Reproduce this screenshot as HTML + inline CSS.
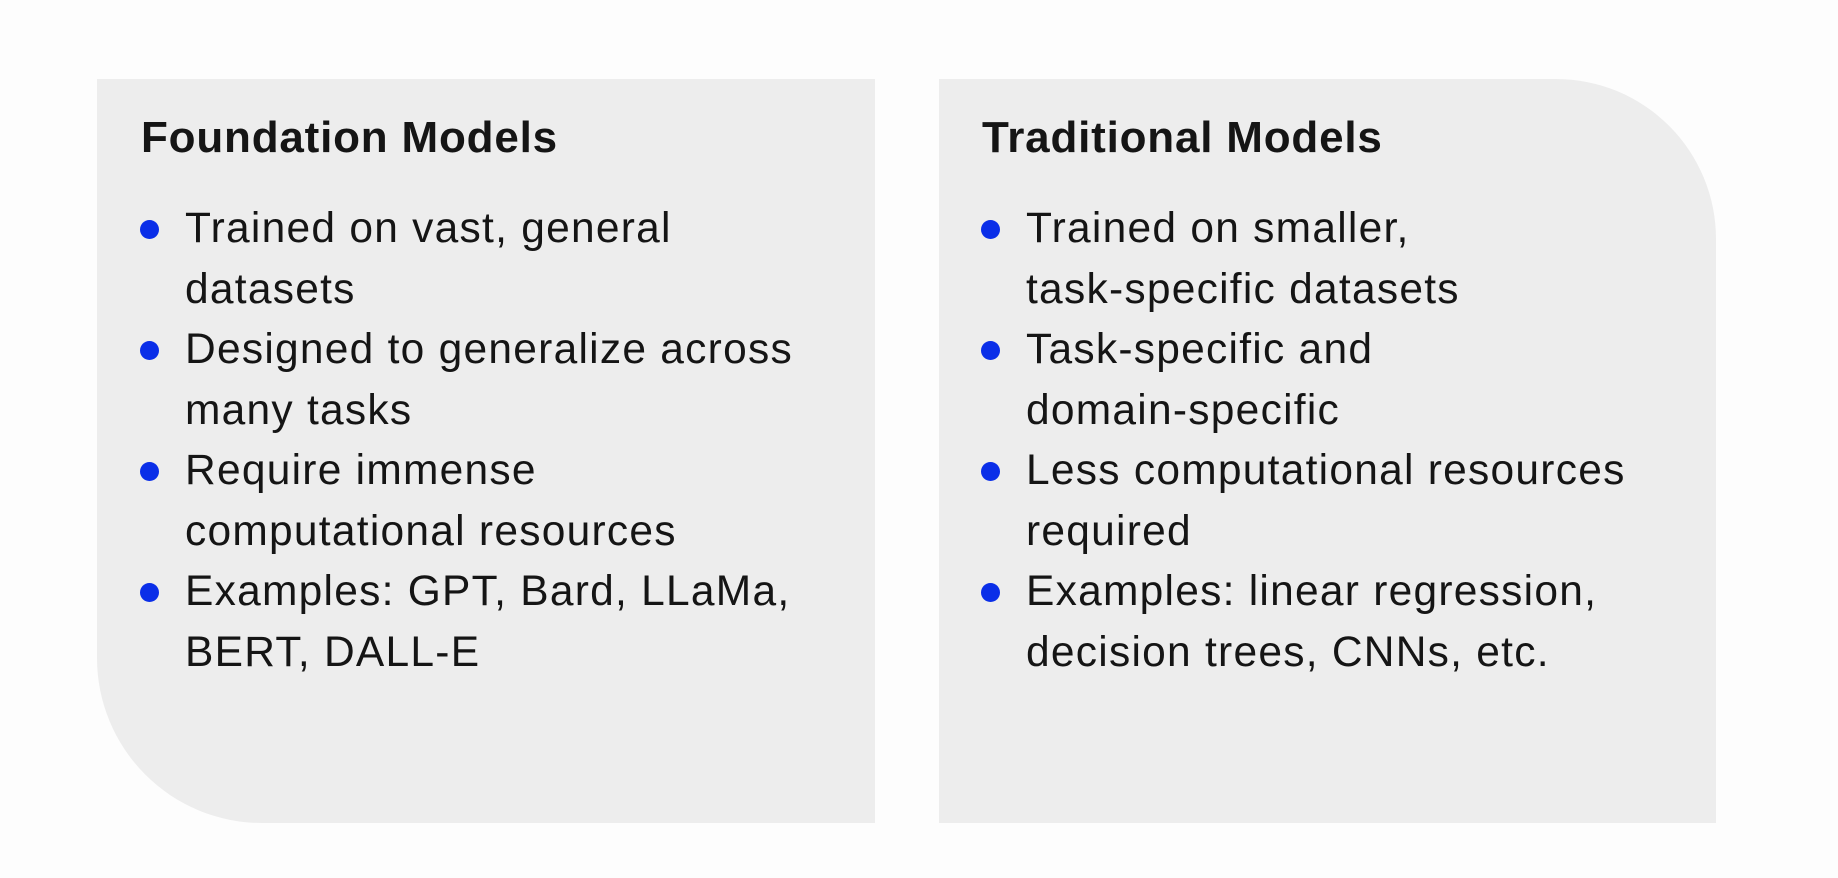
<!DOCTYPE html>
<html><head><meta charset="utf-8"><style>
html,body{margin:0;padding:0;background:#fdfdfd;width:1838px;height:878px;overflow:hidden;font-family:"Liberation Sans",sans-serif;color:#151515}
.box{position:absolute;background:#ededed;top:79px;height:744px}
#l{left:97px;width:778px;border-bottom-left-radius:165px}
#r{left:939px;width:777px;border-top-right-radius:160px}
.t{position:absolute;font-weight:bold;font-size:44px;line-height:42px;white-space:nowrap;letter-spacing:0.8px}
.x{position:absolute;font-size:42.5px;line-height:60.5px;white-space:nowrap;letter-spacing:1.25px}
.d{position:absolute;width:19px;height:19px;border-radius:50%;background:#0a2ee8}
</style></head><body>
<div class="box" id="l"></div>
<div class="box" id="r"></div>
<div class="t" style="left:141px;top:117px">Foundation Models</div>
<div class="t" style="left:982px;top:117px">Traditional Models</div>
<div class="x" style="left:185px;top:199px">Trained on vast, general<br>datasets<br>Designed to generalize across<br>many tasks<br>Require immense<br>computational resources<br>Examples: GPT, Bard, LLaMa,<br>BERT, DALL-E</div>
<div class="x" style="left:1026px;top:199px">Trained on smaller,<br>task-specific datasets<br>Task-specific and<br>domain-specific<br>Less computational resources<br>required<br>Examples: linear regression,<br>decision trees, CNNs, etc.</div>
<div class="d" style="left:140px;top:220px"></div>
<div class="d" style="left:140px;top:341px"></div>
<div class="d" style="left:140px;top:462px"></div>
<div class="d" style="left:140px;top:583px"></div>
<div class="d" style="left:981px;top:220px"></div>
<div class="d" style="left:981px;top:341px"></div>
<div class="d" style="left:981px;top:462px"></div>
<div class="d" style="left:981px;top:583px"></div>
</body></html>
